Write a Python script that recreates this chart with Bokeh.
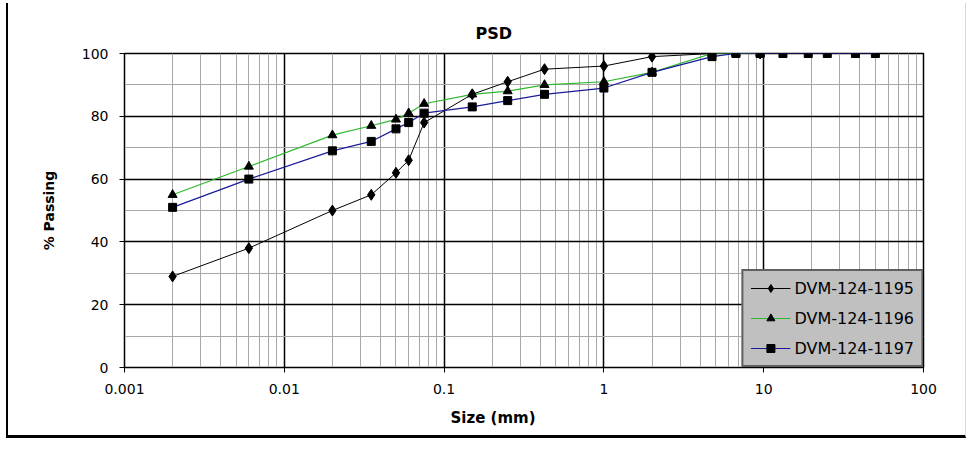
from bokeh.plotting import figure
from bokeh.models import (FixedTicker, CustomJSTickFormatter, Legend, LegendItem,
                          Range1d, Title)
from bokeh.embed import file_html
from bokeh.resources import INLINE

# ---------------- data ----------------
sizes_1195 = [0.002, 0.006, 0.02, 0.035, 0.05, 0.06, 0.075, 0.15, 0.25, 0.425,
              1, 2, 4.75, 9.5]
passing_1195 = [29, 38, 50, 55, 62, 66, 78, 87, 91, 95, 96, 99, 100, 100]

sizes_1196 = [0.002, 0.006, 0.02, 0.035, 0.05, 0.06, 0.075, 0.15, 0.25, 0.425,
              1, 2, 4.75, 6.7, 9.5]
passing_1196 = [55, 64, 74, 77, 79, 81, 84, 87, 88, 90, 91, 94, 100, 100, 100]

sizes_1197 = [0.002, 0.006, 0.02, 0.035, 0.05, 0.06, 0.075, 0.15, 0.25, 0.425,
              1, 2, 4.75, 6.7, 9.5, 13.2, 19, 25, 37.5, 50]
passing_1197 = [51, 60, 69, 72, 76, 78, 81, 83, 85, 87, 89, 94, 99, 100, 100,
                100, 100, 100, 100, 100]

series_names = ["DVM-124-1195", "DVM-124-1196", "DVM-124-1197"]

x_tick_values = [0.001, 0.01, 0.1, 1, 10, 100]
x_tick_labels = ["0.001", "0.01", "0.1", "1", "10", "100"]
x_minor_values = [k * d for d in [0.001, 0.01, 0.1, 1, 10] for k in range(2, 10)]
y_tick_values = [0, 20, 40, 60, 80, 100]
y_minor_values = [10, 30, 50, 70, 90]

FONT = "DejaVu Sans"

p = figure(width=960, height=435, x_axis_type="log",
           x_range=Range1d(0.001, 100), y_range=Range1d(0, 100),
           output_backend="svg", toolbar_location=None,
           min_border_left=116, min_border_right=45,
           min_border_top=50, min_border_bottom=71)
p.styles = {"margin-left": "6px", "margin-top": "3px",
            "border-left": "2px solid black", "border-bottom": "3px solid black",
            "border-right": "1px solid #d8d8d8"}

p.background_fill_color = "white"
p.border_fill_color = "white"
p.outline_line_color = "black"
p.outline_line_width = 1.5

# title
p.title.text = "PSD"
p.title.align = "left"
p.title.offset = 351
p.title.text_font = FONT
p.title.text_font_size = "16px"
p.title.text_font_style = "bold"
p.title.text_color = "black"
p.title.standoff = 22

# x axis
p.xaxis.ticker = FixedTicker(ticks=x_tick_values, minor_ticks=x_minor_values)
p.xaxis.formatter = CustomJSTickFormatter(
    args=dict(vals=x_tick_values, labs=x_tick_labels),
    code="""
for (let i = 0; i < vals.length; i++) {
  if (Math.abs(Math.log10(tick) - Math.log10(vals[i])) < 1e-6) return labs[i];
}
return "";
""")
p.yaxis.ticker = FixedTicker(ticks=y_tick_values, minor_ticks=y_minor_values)

for ax in (p.xaxis, p.yaxis):
    ax.axis_line_color = "black"
    ax.major_tick_line_color = "black"
    ax.major_tick_out = 5
    ax.major_tick_in = 0
    ax.minor_tick_line_color = None
    ax.major_label_text_font = FONT
    ax.major_label_text_font_size = "14px"
    ax.major_label_text_color = "black"
    ax.axis_label_text_font = FONT
    ax.axis_label_text_font_style = "bold"
    ax.axis_label_text_color = "black"

p.xaxis.major_label_standoff = 11
p.yaxis.major_label_standoff = 11
p.yaxis.axis_label = "% Passing"
p.yaxis.axis_label_text_font_size = "14px"
p.yaxis.axis_label_standoff = 22

p.add_layout(Title(text="Size (mm)", align="left", offset=326, standoff=20,
                   text_font=FONT, text_font_size="15px",
                   text_font_style="bold", text_color="black"), "below")

# grid
p.xgrid.grid_line_color = "black"
p.xgrid.grid_line_width = 1.5
p.xgrid.minor_grid_line_color = "#a8a8a8"
p.xgrid.minor_grid_line_width = 1
p.ygrid.grid_line_color = "black"
p.ygrid.grid_line_width = 1.5
p.ygrid.minor_grid_line_color = "#a8a8a8"
p.ygrid.minor_grid_line_width = 1

# series
l1 = p.line(sizes_1195, passing_1195, line_color="black", line_width=1)
l2 = p.line(sizes_1196, passing_1196, line_color="#2db82d", line_width=1.2)
l3 = p.line(sizes_1197, passing_1197, line_color="#1a1a9a", line_width=1.2)
m3 = p.scatter(sizes_1197, passing_1197, marker="square", size=8,
               fill_color="black", line_color="black")
m2 = p.scatter(sizes_1196, passing_1196, marker="triangle", size=9,
               fill_color="black", line_color="black")
m1 = p.scatter(sizes_1195, passing_1195, marker="diamond", size=11,
               fill_color="black", line_color="black")

legend = Legend(items=[
    LegendItem(label=series_names[0], renderers=[l1, m1]),
    LegendItem(label=series_names[1], renderers=[l2, m2]),
    LegendItem(label=series_names[2], renderers=[l3, m3]),
], location="bottom_right")
legend.margin = 0
legend.padding = 7
legend.spacing = 10
legend.glyph_width = 40
legend.label_standoff = 4
legend.label_height = 20
legend.label_text_font = FONT
legend.label_text_font_size = "16px"
legend.label_text_color = "black"
legend.background_fill_color = "#c0c0c0"
legend.background_fill_alpha = 1
legend.border_line_color = "black"
legend.border_line_width = 2
p.add_layout(legend, "center")

open("out.html", "w").write(file_html(p, INLINE))
